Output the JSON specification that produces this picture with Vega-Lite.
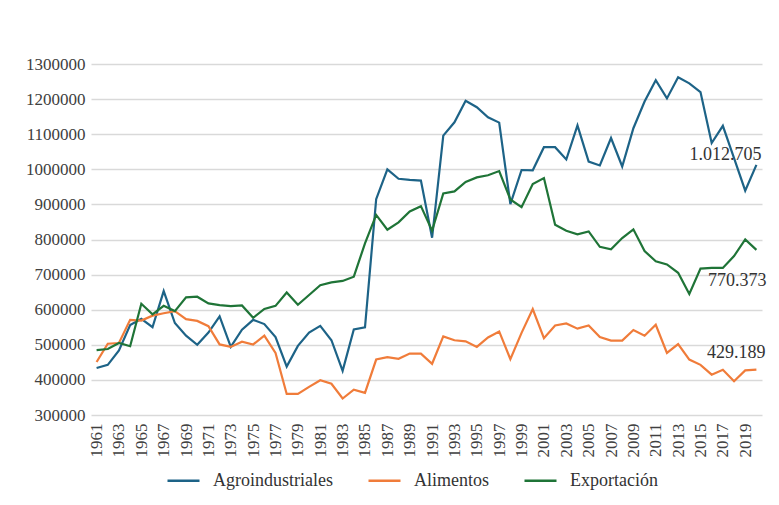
{
  "$schema": "https://vega.github.io/schema/vega-lite/v6.json",
  "width": 671,
  "height": 351,
  "autosize": "none",
  "padding": {"left": 91, "top": 64, "right": 17, "bottom": 90},
  "background": "white",
  "config": {
    "view": {"stroke": null},
    "font": "Liberation Serif",
    "axis": {"labelFont": "Liberation Serif"},
    "legend": {"labelFont": "Liberation Serif"},
    "text": {"font": "Liberation Serif"},
    "locale": {"number": {"decimal": ",", "thousands": ".", "grouping": [3], "currency": ["", ""]}}
  },
  "data": {
    "values": [
      {"year": 1961, "Agroindustriales": 434000, "Alimentos": 451000, "Exportación": 485000},
      {"year": 1962, "Agroindustriales": 443000, "Alimentos": 503000, "Exportación": 488000},
      {"year": 1963, "Agroindustriales": 484000, "Alimentos": 505000, "Exportación": 505000},
      {"year": 1964, "Agroindustriales": 556000, "Alimentos": 571000, "Exportación": 496000},
      {"year": 1965, "Agroindustriales": 574000, "Alimentos": 569000, "Exportación": 617000},
      {"year": 1966, "Agroindustriales": 550000, "Alimentos": 583000, "Exportación": 587000},
      {"year": 1967, "Agroindustriales": 653000, "Alimentos": 590000, "Exportación": 611000},
      {"year": 1968, "Agroindustriales": 562000, "Alimentos": 596000, "Exportación": 596000},
      {"year": 1969, "Agroindustriales": 526000, "Alimentos": 573000, "Exportación": 635000},
      {"year": 1970, "Agroindustriales": 500000, "Alimentos": 568000, "Exportación": 637000},
      {"year": 1971, "Agroindustriales": 535000, "Alimentos": 553000, "Exportación": 618000},
      {"year": 1972, "Agroindustriales": 581000, "Alimentos": 501000, "Exportación": 613000},
      {"year": 1973, "Agroindustriales": 494000, "Alimentos": 494000, "Exportación": 610000},
      {"year": 1974, "Agroindustriales": 543000, "Alimentos": 509000, "Exportación": 612000},
      {"year": 1975, "Agroindustriales": 571000, "Alimentos": 501000, "Exportación": 577000},
      {"year": 1976, "Agroindustriales": 559000, "Alimentos": 526000, "Exportación": 602000},
      {"year": 1977, "Agroindustriales": 522000, "Alimentos": 477000, "Exportación": 611000},
      {"year": 1978, "Agroindustriales": 438000, "Alimentos": 360000, "Exportación": 649000},
      {"year": 1979, "Agroindustriales": 497000, "Alimentos": 360000, "Exportación": 614000},
      {"year": 1980, "Agroindustriales": 535000, "Alimentos": 380000, "Exportación": 642000},
      {"year": 1981, "Agroindustriales": 554000, "Alimentos": 399000, "Exportación": 670000},
      {"year": 1982, "Agroindustriales": 513000, "Alimentos": 389000, "Exportación": 678000},
      {"year": 1983, "Agroindustriales": 426000, "Alimentos": 347000, "Exportación": 682000},
      {"year": 1984, "Agroindustriales": 544000, "Alimentos": 372000, "Exportación": 694000},
      {"year": 1985, "Agroindustriales": 550000, "Alimentos": 363000, "Exportación": 789000},
      {"year": 1986, "Agroindustriales": 915000, "Alimentos": 458000, "Exportación": 870000},
      {"year": 1987, "Agroindustriales": 1000000, "Alimentos": 465000, "Exportación": 828000},
      {"year": 1988, "Agroindustriales": 973000, "Alimentos": 460000, "Exportación": 849000},
      {"year": 1989, "Agroindustriales": 970000, "Alimentos": 475000, "Exportación": 880000},
      {"year": 1990, "Agroindustriales": 968000, "Alimentos": 475000, "Exportación": 895000},
      {"year": 1991, "Agroindustriales": 805000, "Alimentos": 446000, "Exportación": 825000},
      {"year": 1992, "Agroindustriales": 1096000, "Alimentos": 524000, "Exportación": 931000},
      {"year": 1993, "Agroindustriales": 1134000, "Alimentos": 513000, "Exportación": 937000},
      {"year": 1994, "Agroindustriales": 1195000, "Alimentos": 510000, "Exportación": 964000},
      {"year": 1995, "Agroindustriales": 1177000, "Alimentos": 494000, "Exportación": 977000},
      {"year": 1996, "Agroindustriales": 1148000, "Alimentos": 521000, "Exportación": 983000},
      {"year": 1997, "Agroindustriales": 1133000, "Alimentos": 538000, "Exportación": 995000},
      {"year": 1998, "Agroindustriales": 901000, "Alimentos": 459000, "Exportación": 914000},
      {"year": 1999, "Agroindustriales": 998000, "Alimentos": 534000, "Exportación": 892000},
      {"year": 2000, "Agroindustriales": 997000, "Alimentos": 602000, "Exportación": 958000},
      {"year": 2001, "Agroindustriales": 1063000, "Alimentos": 519000, "Exportación": 975000},
      {"year": 2002, "Agroindustriales": 1063000, "Alimentos": 555000, "Exportación": 842000},
      {"year": 2003, "Agroindustriales": 1028000, "Alimentos": 561000, "Exportación": 825000},
      {"year": 2004, "Agroindustriales": 1125000, "Alimentos": 546000, "Exportación": 815000},
      {"year": 2005, "Agroindustriales": 1022000, "Alimentos": 555000, "Exportación": 823000},
      {"year": 2006, "Agroindustriales": 1011000, "Alimentos": 522000, "Exportación": 779000},
      {"year": 2007, "Agroindustriales": 1089000, "Alimentos": 512000, "Exportación": 772000},
      {"year": 2008, "Agroindustriales": 1008000, "Alimentos": 512000, "Exportación": 804000},
      {"year": 2009, "Agroindustriales": 1117000, "Alimentos": 542000, "Exportación": 829000},
      {"year": 2010, "Agroindustriales": 1193000, "Alimentos": 526000, "Exportación": 767000},
      {"year": 2011, "Agroindustriales": 1254000, "Alimentos": 557000, "Exportación": 738000},
      {"year": 2012, "Agroindustriales": 1202000, "Alimentos": 477000, "Exportación": 729000},
      {"year": 2013, "Agroindustriales": 1262000, "Alimentos": 502000, "Exportación": 705000},
      {"year": 2014, "Agroindustriales": 1245000, "Alimentos": 458000, "Exportación": 645000},
      {"year": 2015, "Agroindustriales": 1220000, "Alimentos": 443000, "Exportación": 717000},
      {"year": 2016, "Agroindustriales": 1075000, "Alimentos": 415000, "Exportación": 719000},
      {"year": 2017, "Agroindustriales": 1124000, "Alimentos": 429000, "Exportación": 719000},
      {"year": 2018, "Agroindustriales": 1032000, "Alimentos": 396000, "Exportación": 753000},
      {"year": 2019, "Agroindustriales": 939000, "Alimentos": 427000, "Exportación": 800000},
      {"year": 2020, "Agroindustriales": 1012705, "Alimentos": 429189, "Exportación": 770373}
    ]
  },
  "transform": [
    {"fold": ["Agroindustriales", "Alimentos", "Exportación"], "as": ["serie", "valor"]}
  ],
  "encoding": {
    "x": {
      "field": "year",
      "type": "ordinal",
      "scale": {"type": "point", "padding": 0.5},
      "axis": {
        "title": null,
        "values": [1961,1963,1965,1967,1969,1971,1973,1975,1977,1979,1981,1983,1985,1987,1989,1991,1993,1995,1997,1999,2001,2003,2005,2007,2009,2011,2013,2015,2017,2019],
        "labelAngle": 270,
        "labelFont": "Liberation Serif",
        "labelFontSize": 17,
        "labelColor": "#404040",
        "labelPadding": 8,
        "ticks": false,
        "domain": false,
        "grid": false
      }
    },
    "y": {
      "field": "valor",
      "type": "quantitative",
      "scale": {"domain": [300000, 1300000], "nice": false, "zero": false},
      "axis": {
        "title": null,
        "values": [300000,400000,500000,600000,700000,800000,900000,1000000,1100000,1200000,1300000],
        "format": "d",
        "labelFont": "Liberation Serif",
        "labelFontSize": 17,
        "labelColor": "#404040",
        "labelPadding": 6,
        "ticks": false,
        "domain": false,
        "grid": true,
        "gridColor": "#d9d9d9",
        "gridWidth": 1.5
      }
    }
  },
  "layer": [
    {
      "mark": {"type": "line", "strokeWidth": 2.2},
      "encoding": {
        "color": {
          "field": "serie",
          "type": "nominal",
          "scale": {"domain": ["Agroindustriales", "Alimentos", "Exportación"], "range": ["#1d6387", "#f07c3a", "#1f7437"]},
          "legend": {
            "title": null,
            "orient": "none",
            "direction": "horizontal",
            "legendX": 75,
            "legendY": 399,
            "symbolType": "stroke",
            "symbolSize": 1024,
            "symbolStrokeWidth": 2.5,
            "labelFont": "Liberation Serif",
            "labelFontSize": 18,
            "labelColor": "#333333",
            "labelOffset": 12,
            "columnPadding": 30
          }
        }
      }
    },
    {
      "transform": [{"filter": "datum.year == 2020 && datum.serie == 'Agroindustriales'"}],
      "mark": {"type": "text", "align": "right", "baseline": "middle", "dx": 5, "dy": -10, "fontSize": 18, "font": "Liberation Serif", "color": "#333333"},
      "encoding": {"text": {"field": "valor", "type": "quantitative", "format": ",.0f"}}
    },
    {
      "transform": [{"filter": "datum.year == 2020 && datum.serie == 'Exportación'"}],
      "mark": {"type": "text", "align": "right", "baseline": "middle", "dx": 10, "dy": 31, "fontSize": 18, "font": "Liberation Serif", "color": "#333333"},
      "encoding": {"text": {"field": "valor", "type": "quantitative", "format": ",.0f"}}
    },
    {
      "transform": [{"filter": "datum.year == 2020 && datum.serie == 'Alimentos'"}],
      "mark": {"type": "text", "align": "right", "baseline": "middle", "dx": 9, "dy": -17, "fontSize": 18, "font": "Liberation Serif", "color": "#333333"},
      "encoding": {"text": {"field": "valor", "type": "quantitative", "format": ",.0f"}}
    }
  ]
}
